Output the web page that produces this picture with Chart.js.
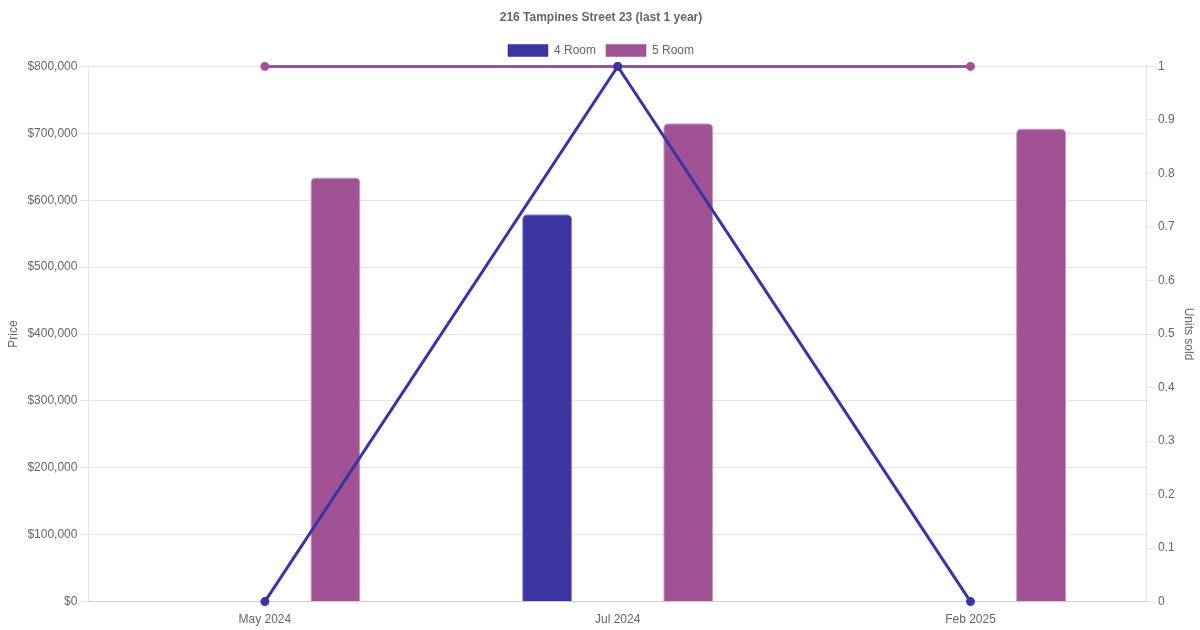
<!DOCTYPE html>
<html>
<head>
<meta charset="utf-8">
<script src="https://cdn.jsdelivr.net/npm/chart.js@4"></script>
<style>
  html, body { margin: 0; padding: 0; background: #fff; }
  #wrap { width: 1200px; height: 630px; }
</style>
</head>
<body>
<div id="wrap"><canvas id="chartId" width="1200" height="630"></canvas></div>
<script>
const months = ['May 2024', 'Jul 2024', 'Feb 2025'];
const price4Room = [null, 579000, null];
const price5Room = [634000, 715000, 707000];
const units4Room = [0, 1, 0];
const units5Room = [1, 1, 1];

const blue = '#3b35a0';
const purple = '#a05294';

Chart.defaults.font.family = '"Liberation Sans", Arial, sans-serif';
Chart.defaults.color = '#666';

var chrt = document.getElementById('chartId').getContext('2d');
var chartId = new Chart(chrt, {
    data: {
        labels: months,
        datasets: [
            {
                type: 'line',
                label: '4 Room units',
                data: units4Room,
                yAxisID: 'y1',
                borderColor: blue,
                backgroundColor: blue,
                borderWidth: 3,
                pointRadius: 3,
                tension: 0,
                clip: false,
                order: 0
            },
            {
                type: 'line',
                label: '5 Room units',
                data: units5Room,
                yAxisID: 'y1',
                borderColor: purple,
                backgroundColor: purple,
                borderWidth: 3,
                pointRadius: 3,
                tension: 0,
                clip: false,
                order: 1
            },
            {
                type: 'bar',
                label: '4 Room',
                data: price4Room,
                yAxisID: 'y',
                backgroundColor: blue,
                borderColor: 'rgba(59,53,160,0.6)',
                borderWidth: 1,
                borderRadius: 5,
                borderSkipped: 'bottom',
                maxBarThickness: 50,
                order: 2
            },
            {
                type: 'bar',
                label: '5 Room',
                data: price5Room,
                yAxisID: 'y',
                backgroundColor: purple,
                borderColor: 'rgba(160,82,148,0.6)',
                borderWidth: 1,
                borderRadius: 5,
                borderSkipped: 'bottom',
                maxBarThickness: 50,
                order: 3
            }
        ]
    },
    options: {
        responsive: false,
        animation: false,
        layout: { padding: { left: 2, right: 0, top: 0, bottom: 0 } },
        plugins: {
            title: {
                display: true,
                text: '216 Tampines Street 23 (last 1 year)',
                font: { size: 12, weight: 'bold' },
                color: '#666',
                padding: { top: 10, bottom: 10 }
            },
            legend: {
                labels: {
                    filter: item => item.text === '4 Room' || item.text === '5 Room',
                    font: { size: 12 }
                }
            }
        },
        scales: {
            x: {
                grid: { display: false },
                ticks: { font: { size: 12 } }
            },
            y: {
                position: 'left',
                min: 0,
                max: 800000,
                ticks: {
                    stepSize: 100000,
                    font: { size: 12 },
                    callback: v => '$' + v.toLocaleString('en-US')
                },
                title: { display: true, text: 'Price', font: { size: 12 } }
            },
            y1: {
                position: 'right',
                min: 0,
                max: 1,
                ticks: {
                    stepSize: 0.1,
                    font: { size: 12 },
                    callback: v => String(Math.round(v * 10) / 10)
                },
                grid: { drawOnChartArea: false },
                title: { display: true, text: 'Units sold', font: { size: 12 } }
            }
        }
    }
});
</script>
</body>
</html>
